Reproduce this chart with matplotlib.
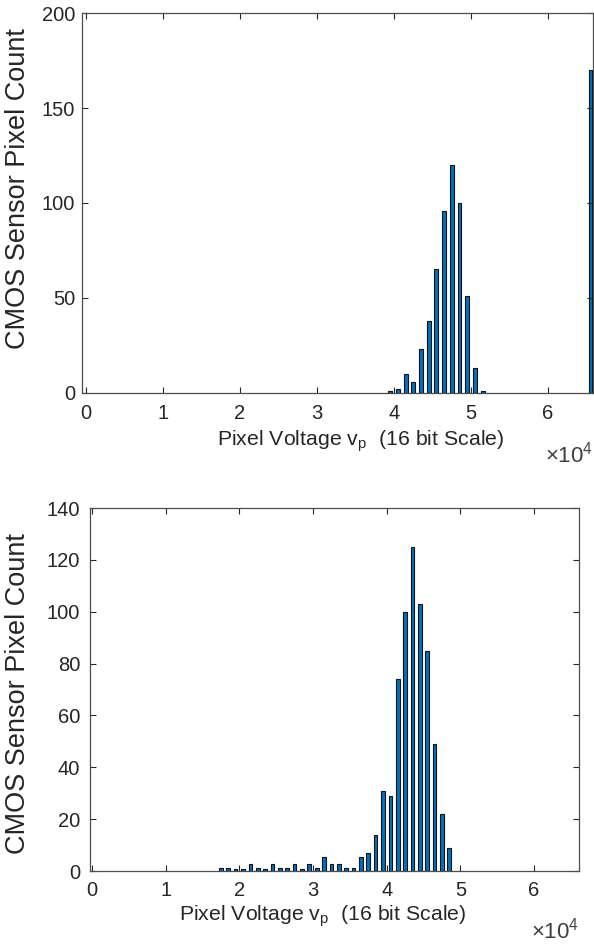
import matplotlib
matplotlib.use('Agg')
import matplotlib.pyplot as plt

# top panel: bin centres (counts)
top_x = [39500, 40500, 41500, 42500, 43500, 44500, 45500, 46500, 47500,
         48500, 49500, 50500, 51500, 65500]
top_counts = [1, 2, 10, 6, 23, 38, 65, 96, 120, 100, 51, 13, 1, 170]
top_yticks = [0, 50, 100, 150, 200]

# bottom panel
bot_x = [17500, 18500, 19500, 20500, 21500, 22500, 23500, 24500, 25500,
         26500, 27500, 28500, 29500, 30500, 31500, 32500, 33500, 34500,
         35500, 36500, 37500, 38500, 39500, 40500, 41500, 42500, 43500,
         44500, 45500, 46500, 47500, 48500]
bot_counts = [1.3, 1.3, 0.7, 0.7, 2.6, 1.3, 0.7, 2.6, 1.3, 1.3, 2.6, 0.7,
              2.6, 1.3, 5.3, 2.6, 2.6, 1.3, 1.3, 5.5, 7, 14, 31, 29, 74,
              100, 125, 103, 85, 49, 22, 9]
bot_yticks = [0, 20, 40, 60, 80, 100, 120, 140]

xticks = [0, 10000, 20000, 30000, 40000, 50000, 60000]
xticklabels = ['0', '1', '2', '3', '4', '5', '6']

plt.rcParams['font.family'] = ['Liberation Sans', 'DejaVu Sans']
plt.rcParams['mathtext.fontset'] = 'custom'
plt.rcParams['mathtext.rm'] = 'Liberation Sans'

text_col = '#262626'
bar_col = '#0072BD'


def style_axes(ax, yticks, ylim, xlim, xlab_pos, ylab_pos, xpad, ypad):
    ax.set_xlim(xlim)
    ax.set_ylim(ylim)
    ax.set_xticks(xticks)
    ax.set_xticklabels(xticklabels)
    ax.set_yticks(yticks)
    ax.tick_params(direction='in', top=True, right=True, length=4,
                   width=0.8, colors=text_col, labelsize=14.5)
    ax.tick_params(axis='x', pad=xpad)
    ax.tick_params(axis='y', pad=ypad)
    for s in ax.spines.values():
        s.set_color('#4d4d4d')
        s.set_linewidth(0.9)
    ax.set_xlabel(r'Pixel Voltage v$_{\mathregular{p}}$  (16 bit Scale)',
                  fontsize=15.3, color=text_col)
    ax.xaxis.label.set_va('center')
    ax.xaxis.set_label_coords(*xlab_pos)
    ax.set_ylabel('CMOS Sensor Pixel Count', fontsize=19.5, color=text_col)
    ax.yaxis.label.set_va('center')
    ax.yaxis.set_label_coords(*ylab_pos)
    ax.text(1.0, -0.163, r'$\times\mathregular{10}^{\mathregular{4}}$',
            transform=ax.transAxes, ha='right', va='center', fontsize=16,
            color='#404040')


fig = plt.figure(figsize=(5.94, 9.51), dpi=100)
ax1 = fig.add_axes([0.138, 0.5868, 0.860, 0.3995])
ax2 = fig.add_axes([0.1515, 0.0841, 0.823, 0.3817])

ax1.bar(top_x, top_counts, width=500, color=bar_col, edgecolor='#111111',
        linewidth=0.8)
style_axes(ax1, top_yticks, (0, 200), (-500, 65800),
           (0.546, -0.128), (-0.125, 0.537), 8, 5)

ax2.bar(bot_x, bot_counts, width=500, color=bar_col, edgecolor='#111111',
        linewidth=0.8)
style_axes(ax2, bot_yticks, (0, 140), (-270, 66080),
           (0.476, -0.124), (-0.147, 0.488), 7, 7)

fig.savefig('out.png', dpi=100, facecolor='white')
